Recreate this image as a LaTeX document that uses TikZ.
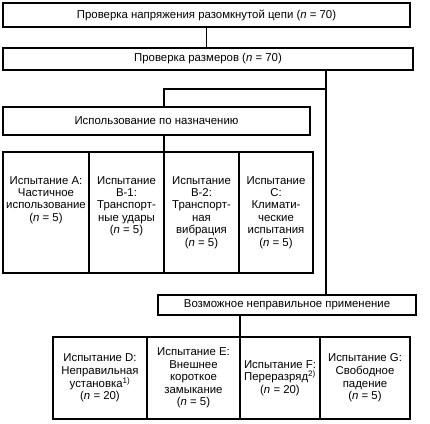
\documentclass[tikz,border=0pt]{standalone}
\usepackage{fontspec}
\setmainfont{Liberation Sans}
\usetikzlibrary{positioning,calc}

\begin{document}
\begin{tikzpicture}[
    x=1pt, y=-1pt,
    box/.style={draw, line width=1.8pt, inner sep=0pt, outer sep=0pt, anchor=north west,
        font=\fontsize{11.4}{12.6}\selectfont},
    cell/.style={box, align=center},
    celltext/.style={align=center, inner sep=0pt, anchor=north, font=\fontsize{11.4}{12.4}\selectfont},
    link/.style={line width=1.8pt}
]
\useasboundingbox (0,0) rectangle (430,423);

% Checks on all cells
\node[box, minimum width=407, minimum height=24] (volt) at (3,3)
    {Проверка напряжения разомкнутой цепи (\textit{n} = 70)};
\node[box, minimum width=410, minimum height=22] (size) at (3,48)
    {Проверка размеров (\textit{n} = 70)};

% Intended use branch
\node[box, minimum width=307, minimum height=28] (use) at (3,107)
    {Использование по назначению};

\node[cell, minimum width=86, minimum height=121] (tA) at (3,152) {};
\node[cell, minimum width=75, minimum height=121] (tB1) at (tA.north east) {};
\node[cell, minimum width=75, minimum height=121] (tB2) at (tB1.north east) {};
\node[cell, minimum width=74, minimum height=121] (tC) at (tB2.north east) {};

\node[celltext] (tAtxt) at ([yshift=-24]tA.north)
    {Испытание A:\\Частичное\\использование\\(\textit{n} = 5)};
\node[celltext] (tB1txt) at ([yshift=-24]tB1.north)
    {Испытание\\B-1:\\Транспорт-\\ные удары\\(\textit{n} = 5)};
\node[celltext] (tB2txt) at ([yshift=-24]tB2.north)
    {Испытание\\B-2:\\Транспорт-\\ная\\вибрация\\(\textit{n} = 5)};
\node[celltext] (tCtxt) at ([yshift=-24]tC.north)
    {Испытание\\C:\\Климати-\\ческие\\испытания\\(\textit{n} = 5)};

% Misuse branch
\node[box, minimum width=258, minimum height=20] (mis) at (158,295)
    {Возможное неправильное применение};

\node[cell, minimum width=94, minimum height=82] (tD) at (53,337)
    {Испытание D:\\Неправильная\\установка\textsuperscript{1)}\\(\textit{n} = 20)};
\node[cell, minimum width=93, minimum height=82] (tE) at (tD.north east)
    {Испытание E:\\Внешнее\\короткое\\замыкание\\(\textit{n} = 5)};
\node[cell, minimum width=80, minimum height=82] (tF) at (tE.north east)
    {Испытание F:\\Переразряд\textsuperscript{2)}\\(\textit{n} = 20)};
\node[cell, minimum width=90, minimum height=82] (tG) at (tF.north east)
    {Испытание G:\\Свободное\\падение\\(\textit{n} = 5)};

% Connectors
\coordinate (fork) at (326,89);
\draw[link] (volt.south) -- (volt.south |- size.north);
\draw[link] (fork |- size.south) -- (fork |- mis.north);
\draw[link] (fork) -- (fork -| tB1.north east) -- (use.north -| tB1.north east);
\draw[link] (use.south -| tB1.north east) -- (tB1.north east);
\draw[link] (mis.south -| tE.north east) -- (tE.north east);

\end{tikzpicture}
\end{document}
